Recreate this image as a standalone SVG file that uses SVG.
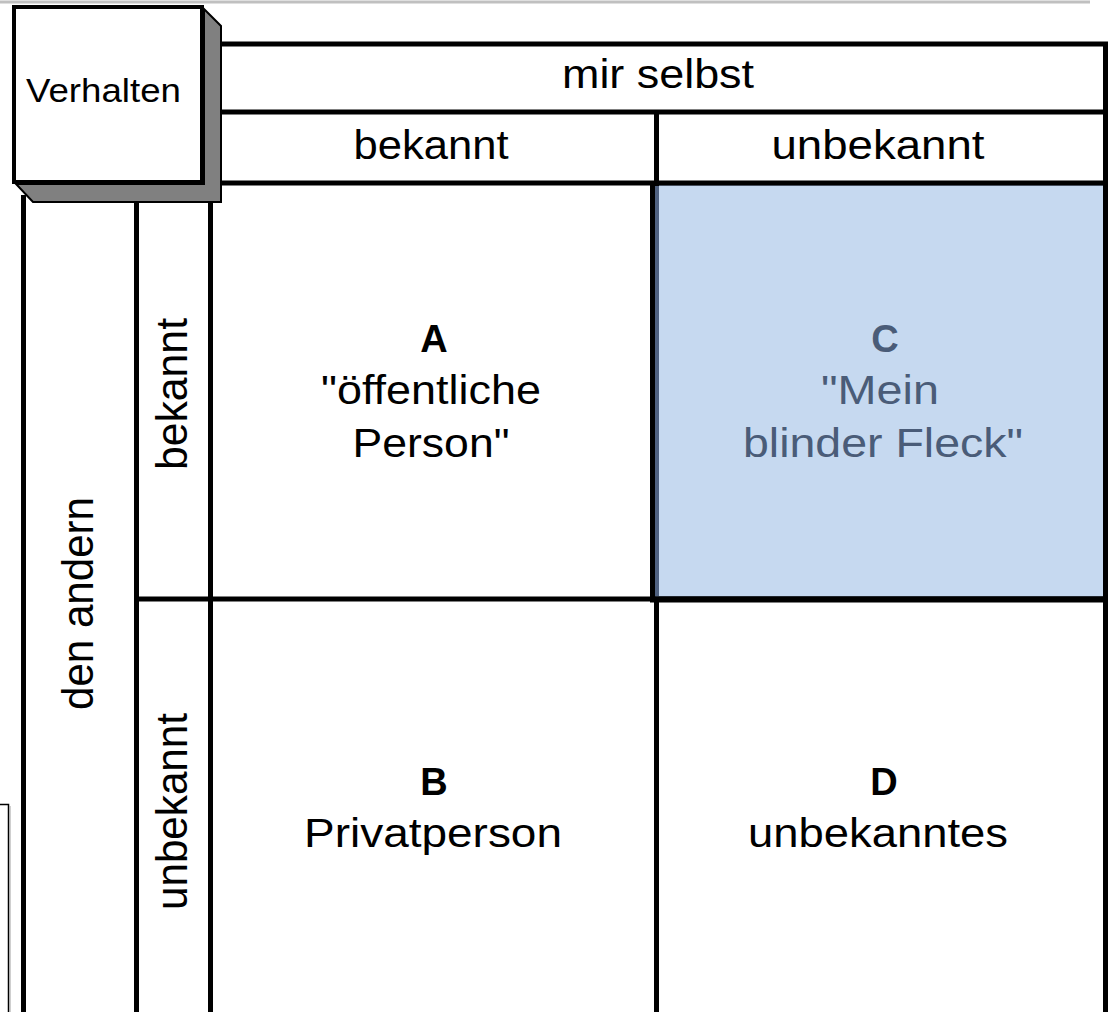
<svg xmlns="http://www.w3.org/2000/svg" width="1110" height="1012" viewBox="0 0 1110 1012">
<style>
.t{font-family:"Liberation Sans",Arial,sans-serif;fill:#000;text-anchor:middle}
.r{font-size:41px}
.v{font-size:45px}
.b{font-size:38px;font-weight:bold}
.c{fill:#4A5C78}
.ln{stroke:#000;stroke-width:5;fill:none}
</style>
<rect x="0" y="0" width="1110" height="1012" fill="#fff"/>
<line x1="0" y1="2" x2="1090" y2="2" stroke="#c0c0c0" stroke-width="3"/>
<g id="side-bracket">
<path d="M0,804.5 H8.5 V1012" fill="none" stroke="#000" stroke-width="1.5"/>
<line x1="10" y1="806" x2="10" y2="1012" stroke="#a0a0a0" stroke-width="1"/>
</g>
<g id="cell-C">
<rect x="655" y="185" width="449" height="412" fill="#C6D9F0" stroke="#4F6180" stroke-width="1"/>
<text class="t b c" x="885" y="352">C</text>
<text class="t r c" x="880" y="404" textLength="118" lengthAdjust="spacingAndGlyphs">"Mein</text>
<text class="t r c" x="883" y="457" textLength="280" lengthAdjust="spacingAndGlyphs">blinder Fleck"</text>
</g>
<g id="grid">
<line class="ln" x1="218" y1="44" x2="1108" y2="44"/>
<line class="ln" x1="218" y1="112" x2="1108" y2="112"/>
<line class="ln" x1="218" y1="183" x2="1108" y2="183"/>
<line class="ln" x1="1105.5" y1="42" x2="1105.5" y2="1012"/>
<line class="ln" x1="656.5" y1="110" x2="656.5" y2="186"/>
<line class="ln" x1="652.5" y1="181" x2="652.5" y2="602"/>
<line class="ln" x1="656.5" y1="598" x2="656.5" y2="1012"/>
<line class="ln" x1="136" y1="599" x2="1108" y2="599"/>
<line x1="650" y1="599.5" x2="1108" y2="599.5" stroke="#000" stroke-width="6"/>
<line class="ln" x1="23.5" y1="195" x2="23.5" y2="1012"/>
<line class="ln" x1="136.5" y1="195" x2="136.5" y2="1012"/>
<line class="ln" x1="210.5" y1="195" x2="210.5" y2="1012"/>
</g>
<rect x="655" y="186" width="4" height="410" fill="#4F6180"/>
<g id="verhalten">
<polygon points="204,9 221,26 221,202 33,202 16,184 204,184" fill="#808080" stroke="#000" stroke-width="2"/>
<rect x="14" y="7" width="188" height="175" fill="#fff" stroke="#000" stroke-width="4"/>
<text class="t" x="103.5" y="102" font-size="33" textLength="155" lengthAdjust="spacingAndGlyphs">Verhalten</text>
</g>
<g id="mir-selbst">
<text class="t" x="658" y="88" font-size="40" textLength="192" lengthAdjust="spacingAndGlyphs">mir selbst</text>
</g>
<g id="col-bekannt">
<text class="t r" x="431" y="159" textLength="155" lengthAdjust="spacingAndGlyphs">bekannt</text>
</g>
<g id="col-unbekannt">
<text class="t r" x="878" y="159" textLength="213" lengthAdjust="spacingAndGlyphs">unbekannt</text>
</g>
<g id="den-andern">
<text class="t v" transform="translate(93,603.5) rotate(-90)" x="0" y="0" textLength="213" lengthAdjust="spacingAndGlyphs">den andern</text>
</g>
<g id="row-bekannt">
<text class="t v" transform="translate(187,394) rotate(-90)" x="0" y="0" textLength="152" lengthAdjust="spacingAndGlyphs">bekannt</text>
</g>
<g id="row-unbekannt">
<text class="t v" transform="translate(187,811.5) rotate(-90)" x="0" y="0" textLength="197" lengthAdjust="spacingAndGlyphs">unbekannt</text>
</g>
<g id="cell-A">
<text class="t b" x="434" y="352">A</text>
<text class="t r" x="431" y="404" textLength="220" lengthAdjust="spacingAndGlyphs">"öffentliche</text>
<text class="t r" x="431" y="457" textLength="157" lengthAdjust="spacingAndGlyphs">Person"</text>
</g>
<g id="cell-B">
<text class="t b" x="434" y="795">B</text>
<text class="t r" x="433" y="847" textLength="258" lengthAdjust="spacingAndGlyphs">Privatperson</text>
</g>
<g id="cell-D">
<text class="t b" x="884" y="795">D</text>
<text class="t r" x="878" y="847" textLength="260" lengthAdjust="spacingAndGlyphs">unbekanntes</text>
</g>
</svg>
